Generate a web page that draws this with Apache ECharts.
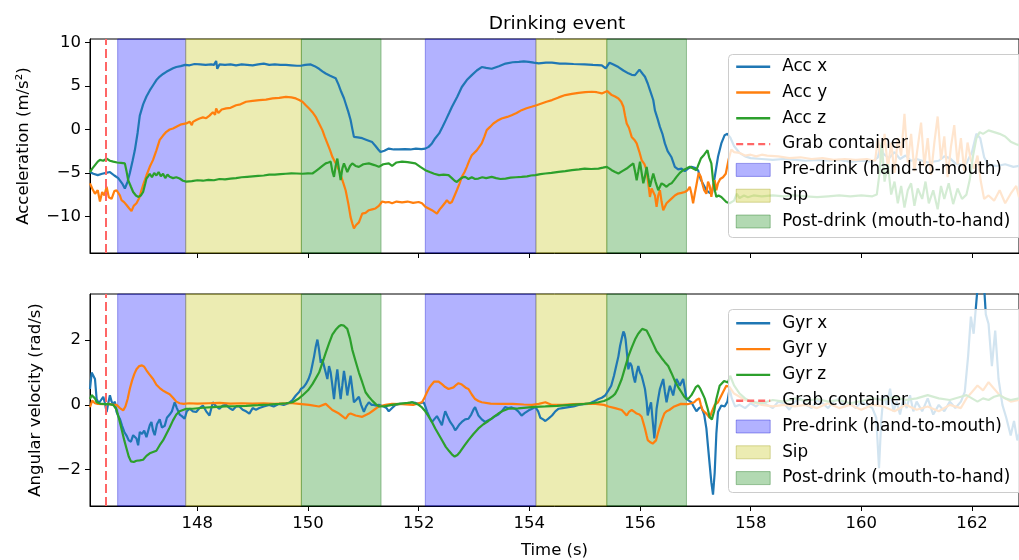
<!DOCTYPE html>
<html>
<head>
<meta charset="utf-8">
<script src="https://cdn.jsdelivr.net/npm/echarts@6/dist/echarts.min.js"></script>
<style>html,body{margin:0;padding:0;background:#fff}#c{width:1019px;height:560px}</style>
</head>
<body>
<div id="c"></div>
<script>
// ---- data (time in s, value) ----
const timeTicks = [148,150,152,154,156,158,160,162];
const accTicks = [-10,-5,0,5,10];
const gyrTicks = [-2,0,2];
const grabTime = [146.35];
const preDrink = [[146.56,147.79],[152.12,154.12]];
const sipPhase = [[147.79,149.88],[154.12,155.40]];
const postDrink = [[149.88,151.32],[155.40,156.84]];

const accX = [[146.06,-4.9],[146.12,-5.1],[146.2,-5.25],[146.28,-5.1],[146.35,-5.0],[146.42,-4.9],[146.5,-5.3],[146.57,-5.6],[146.64,-6.2],[146.69,-6.8],[146.74,-6.0],[146.78,-5.0],[146.83,-3.6],[146.87,-2.4],[146.92,-0.4],[146.96,1.6],[147.02,2.9],[147.08,3.8],[147.14,4.5],[147.2,5.1],[147.26,5.7],[147.32,6.1],[147.38,6.4],[147.44,6.65],[147.5,6.85],[147.56,7.05],[147.62,7.2],[147.7,7.3],[147.78,7.45],[147.86,7.4],[147.95,7.55],[148.05,7.5],[148.15,7.45],[148.25,7.5],[148.3,7.45],[148.34,7.9],[148.36,7.0],[148.4,7.5],[148.5,7.45],[148.6,7.5],[148.7,7.4],[148.8,7.5],[148.9,7.45],[149.0,7.4],[149.1,7.5],[149.2,7.6],[149.3,7.45],[149.4,7.5],[149.5,7.45],[149.6,7.45],[149.7,7.4],[149.8,7.35],[149.87,7.35],[149.95,7.45],[150.05,7.5],[150.12,7.3],[150.2,7.0],[150.26,6.7],[150.32,6.45],[150.4,6.2],[150.5,5.9],[150.55,5.2],[150.6,4.35],[150.65,3.6],[150.68,3.0],[150.73,2.0],[150.77,1.1],[150.8,0.1],[150.83,-0.85],[150.9,-0.9],[150.98,-1.0],[151.06,-1.2],[151.16,-1.45],[151.22,-1.9],[151.27,-2.3],[151.31,-2.6],[151.38,-2.45],[151.46,-2.2],[151.55,-2.3],[151.64,-2.3],[151.75,-2.25],[151.85,-2.3],[151.95,-2.2],[152.05,-2.25],[152.12,-2.2],[152.18,-2.0],[152.24,-1.6],[152.3,-1.0],[152.37,-0.45],[152.43,0.3],[152.49,1.08],[152.55,1.9],[152.6,2.6],[152.7,3.8],[152.78,4.9],[152.87,5.7],[152.96,6.27],[153.05,6.8],[153.14,7.2],[153.22,7.1],[153.32,7.0],[153.45,7.3],[153.57,7.6],[153.7,7.75],[153.81,7.8],[153.9,7.85],[153.99,7.8],[154.08,7.7],[154.17,7.62],[154.3,7.7],[154.41,7.7],[154.55,7.6],[154.65,7.6],[154.8,7.55],[155.0,7.5],[155.15,7.45],[155.31,7.4],[155.38,7.04],[155.45,7.7],[155.52,7.5],[155.61,7.2],[155.7,6.8],[155.79,6.47],[155.85,6.3],[155.91,6.27],[155.99,6.9],[156.05,6.4],[156.09,6.08],[156.14,5.3],[156.18,4.54],[156.24,3.4],[156.27,2.2],[156.32,1.2],[156.36,0.3],[156.41,-0.6],[156.45,-1.6],[156.5,-2.5],[156.57,-3.2],[156.63,-4.3],[156.69,-4.6],[156.75,-4.5],[156.81,-4.8],[156.87,-4.5],[156.93,-4.3],[156.99,-4.4],[157.05,-4.7],[157.1,-5.8],[157.16,-6.5],[157.2,-7.0],[157.26,-7.3],[157.3,-7.35],[157.35,-5.5],[157.41,-3.15],[157.47,-1.6],[157.53,-0.65],[157.58,-0.5],[157.63,-0.9],[157.7,-1.9],[157.8,-2.7],[157.9,-3.1],[158.0,-3.3],[158.2,-3.4],[158.4,-3.5],[158.6,-3.4],[158.8,-3.5],[159.0,-3.6],[159.2,-3.5],[159.4,-3.6],[159.6,-3.5],[159.8,-3.7],[160.0,-3.6],[160.2,-3.7],[160.3,-3.2],[160.35,-1.8],[160.4,-2.8],[160.5,-3.3],[160.6,-2.6],[160.7,-3.4],[160.8,-3.0],[160.9,-3.6],[161.0,-3.4],[161.2,-3.8],[161.4,-3.6],[161.5,-3.1],[161.6,-3.3],[161.7,-3.9],[161.8,-4.1],[161.9,-3.9],[162.0,-2.6],[162.08,-0.5],[162.15,-1.0],[162.22,-3.2],[162.3,-4.1],[162.45,-4.2],[162.6,-4.0],[162.75,-4.3],[162.85,-4.2]];

const accY = [[146.06,-6.2],[146.1,-6.8],[146.15,-7.4],[146.2,-7.0],[146.24,-8.3],[146.28,-7.2],[146.32,-7.6],[146.36,-6.6],[146.4,-7.8],[146.45,-8.0],[146.5,-7.1],[146.54,-7.0],[146.6,-7.6],[146.63,-8.15],[146.68,-8.4],[146.72,-8.7],[146.77,-9.1],[146.81,-9.4],[146.85,-8.8],[146.9,-8.5],[146.95,-7.9],[146.99,-7.0],[147.03,-6.2],[147.08,-5.3],[147.14,-4.3],[147.2,-3.5],[147.26,-2.4],[147.32,-1.2],[147.38,-0.7],[147.44,-0.27],[147.5,0.0],[147.56,0.12],[147.63,0.35],[147.71,0.6],[147.8,0.7],[147.86,0.9],[147.9,0.5],[147.92,0.88],[147.98,1.1],[148.04,1.27],[148.1,1.4],[148.16,1.3],[148.22,1.6],[148.28,2.0],[148.32,1.7],[148.34,2.43],[148.38,1.9],[148.44,2.3],[148.52,2.43],[148.6,2.5],[148.7,2.8],[148.78,2.9],[148.88,3.2],[149.0,3.3],[149.12,3.39],[149.24,3.45],[149.36,3.58],[149.48,3.65],[149.6,3.77],[149.7,3.7],[149.78,3.58],[149.84,3.4],[149.9,3.2],[149.96,2.8],[150.02,2.43],[150.08,2.0],[150.14,1.46],[150.2,0.7],[150.26,-0.07],[150.3,-0.8],[150.35,-1.6],[150.4,-2.4],[150.44,-3.15],[150.5,-3.9],[150.56,-4.69],[150.62,-5.8],[150.68,-7.0],[150.73,-8.6],[150.77,-10.1],[150.8,-10.8],[150.83,-11.4],[150.87,-11.0],[150.92,-10.7],[150.98,-9.7],[151.04,-9.6],[151.1,-9.3],[151.16,-9.2],[151.22,-9.1],[151.28,-8.8],[151.34,-8.3],[151.4,-8.4],[151.46,-8.35],[151.52,-8.5],[151.6,-8.3],[151.7,-8.4],[151.8,-8.3],[151.9,-8.45],[152.0,-8.35],[152.06,-8.5],[152.12,-8.9],[152.18,-9.1],[152.24,-9.3],[152.33,-9.7],[152.38,-9.2],[152.42,-8.9],[152.47,-8.5],[152.51,-8.15],[152.56,-8.5],[152.6,-8.35],[152.65,-7.6],[152.69,-7.0],[152.74,-6.2],[152.78,-5.46],[152.83,-4.9],[152.87,-4.3],[152.92,-3.5],[152.96,-2.96],[153.05,-2.4],[153.14,-1.6],[153.19,-0.8],[153.23,-0.07],[153.29,0.3],[153.35,0.69],[153.42,1.0],[153.5,1.27],[153.6,1.45],[153.68,1.65],[153.77,1.9],[153.86,2.23],[153.95,2.45],[154.04,2.62],[154.13,2.8],[154.22,3.0],[154.31,3.2],[154.41,3.39],[154.53,3.7],[154.65,3.97],[154.77,4.1],[154.89,4.23],[155.01,4.3],[155.13,4.35],[155.22,4.3],[155.31,4.16],[155.36,4.3],[155.41,4.43],[155.49,3.97],[155.55,3.8],[155.61,3.58],[155.66,3.2],[155.7,2.62],[155.73,1.6],[155.76,0.69],[155.8,0.2],[155.85,-0.85],[155.9,-1.2],[155.94,-1.6],[155.99,-2.6],[156.03,-3.53],[156.08,-4.0],[156.12,-4.69],[156.15,-6.2],[156.18,-7.77],[156.21,-6.8],[156.24,-6.6],[156.27,-7.6],[156.3,-8.9],[156.33,-7.6],[156.36,-7.0],[156.39,-8.3],[156.42,-9.3],[156.45,-8.9],[156.48,-8.5],[156.53,-8.2],[156.57,-7.96],[156.63,-7.6],[156.69,-7.38],[156.75,-7.3],[156.81,-7.2],[156.86,-7.0],[156.9,-6.6],[156.93,-7.4],[156.96,-8.5],[156.99,-7.4],[157.02,-6.4],[157.06,-5.0],[157.1,-5.46],[157.13,-6.3],[157.16,-7.0],[157.2,-7.4],[157.23,-6.0],[157.26,-6.5],[157.29,-7.77],[157.32,-6.5],[157.35,-5.84],[157.38,-7.0],[157.41,-6.2],[157.45,-5.7],[157.5,-5.5],[157.55,-5.1],[157.6,-3.5],[157.65,-2.3],[157.7,-2.6],[157.8,-2.7],[157.9,-3.0],[158.0,-2.9],[158.1,-3.1],[158.2,-2.9],[158.3,-3.0],[158.5,-3.1],[158.7,-3.3],[158.9,-3.2],[159.1,-3.4],[159.3,-3.3],[159.5,-3.5],[159.7,-3.4],[159.9,-3.5],[160.1,-3.4],[160.25,-3.6],[160.3,-1.0],[160.36,-3.8],[160.42,-0.5],[160.48,-4.5],[160.54,-1.5],[160.6,-5.0],[160.66,-1.0],[160.72,-3.0],[160.78,1.8],[160.84,-3.8],[160.9,-0.5],[160.96,-4.8],[161.02,-2.0],[161.08,0.8],[161.14,-4.2],[161.2,-1.0],[161.26,-5.2],[161.32,-1.5],[161.38,1.5],[161.44,-3.5],[161.5,-0.8],[161.56,-5.5],[161.62,-2.0],[161.68,0.5],[161.74,-4.0],[161.8,-1.0],[161.86,-4.8],[161.92,-1.5],[161.98,-3.5],[162.04,-4.5],[162.1,-3.0],[162.16,-6.0],[162.22,-8.0],[162.3,-7.6],[162.4,-8.2],[162.5,-7.0],[162.6,-8.5],[162.7,-7.4],[162.8,-6.5],[162.85,-7.8]];

const accZ = [[146.06,-4.9],[146.1,-4.5],[146.15,-4.1],[146.2,-3.7],[146.24,-3.5],[146.3,-3.6],[146.36,-3.35],[146.42,-3.6],[146.48,-3.7],[146.55,-3.8],[146.62,-3.85],[146.69,-3.9],[146.72,-4.8],[146.75,-5.84],[146.8,-6.6],[146.84,-7.2],[146.89,-7.6],[146.93,-7.77],[146.98,-7.6],[147.02,-7.2],[147.06,-6.2],[147.08,-5.65],[147.11,-5.4],[147.14,-5.1],[147.18,-5.5],[147.22,-5.0],[147.26,-5.3],[147.3,-4.9],[147.34,-5.4],[147.38,-5.1],[147.42,-5.6],[147.46,-5.2],[147.5,-5.45],[147.56,-5.6],[147.62,-5.5],[147.68,-5.65],[147.74,-5.9],[147.8,-6.0],[147.9,-5.95],[148.0,-5.85],[148.1,-5.9],[148.2,-5.8],[148.3,-5.85],[148.4,-5.7],[148.5,-5.75],[148.6,-5.65],[148.7,-5.6],[148.8,-5.5],[148.9,-5.45],[149.0,-5.4],[149.1,-5.35],[149.2,-5.3],[149.3,-5.2],[149.4,-5.2],[149.5,-5.15],[149.6,-5.1],[149.7,-5.05],[149.8,-5.07],[149.9,-5.1],[150.0,-5.05],[150.08,-5.07],[150.14,-4.8],[150.2,-4.5],[150.26,-4.2],[150.32,-3.9],[150.37,-3.8],[150.41,-3.7],[150.44,-4.8],[150.47,-5.46],[150.5,-4.2],[150.53,-3.35],[150.56,-4.6],[150.59,-5.84],[150.62,-4.5],[150.65,-3.9],[150.68,-4.4],[150.71,-4.9],[150.76,-4.2],[150.8,-3.9],[150.86,-4.2],[150.92,-4.3],[151.0,-4.0],[151.1,-3.9],[151.2,-4.1],[151.28,-4.3],[151.36,-4.0],[151.46,-3.9],[151.52,-4.2],[151.6,-3.8],[151.7,-3.7],[151.8,-3.75],[151.94,-3.9],[152.03,-4.3],[152.12,-4.69],[152.2,-4.9],[152.28,-5.1],[152.37,-5.26],[152.45,-5.2],[152.54,-5.26],[152.6,-5.6],[152.65,-5.9],[152.69,-6.04],[152.75,-5.7],[152.8,-5.5],[152.84,-5.46],[152.9,-5.7],[152.96,-5.5],[153.02,-5.7],[153.08,-5.65],[153.15,-5.5],[153.22,-5.6],[153.32,-5.46],[153.4,-5.6],[153.48,-5.7],[153.57,-5.65],[153.66,-5.55],[153.76,-5.5],[153.86,-5.46],[153.96,-5.4],[154.03,-5.3],[154.11,-5.26],[154.2,-5.15],[154.29,-5.07],[154.4,-5.0],[154.53,-4.88],[154.65,-4.8],[154.77,-4.69],[154.9,-4.6],[155.0,-4.5],[155.12,-4.55],[155.25,-4.5],[155.33,-4.4],[155.4,-4.3],[155.45,-4.5],[155.49,-4.69],[155.55,-4.9],[155.61,-5.07],[155.68,-4.8],[155.76,-4.5],[155.82,-4.2],[155.88,-3.9],[155.91,-4.8],[155.94,-5.84],[155.97,-4.8],[156.0,-3.7],[156.03,-5.0],[156.06,-6.2],[156.09,-5.4],[156.12,-4.3],[156.15,-5.5],[156.18,-6.6],[156.21,-5.8],[156.24,-5.07],[156.28,-6.0],[156.33,-7.0],[156.36,-6.6],[156.39,-6.2],[156.44,-6.4],[156.48,-6.6],[156.53,-6.3],[156.57,-6.2],[156.62,-5.8],[156.66,-5.46],[156.72,-5.0],[156.78,-4.69],[156.84,-4.5],[156.9,-4.3],[156.96,-4.5],[157.02,-4.69],[157.06,-4.0],[157.1,-3.35],[157.16,-2.9],[157.22,-2.38],[157.25,-3.2],[157.29,-3.9],[157.32,-5.84],[157.36,-7.2],[157.38,-7.77],[157.42,-7.6],[157.47,-7.77],[157.52,-8.1],[157.56,-8.35],[157.62,-8.5],[157.7,-8.2],[157.75,-7.4],[157.8,-7.9],[157.88,-7.6],[157.95,-7.8],[158.05,-7.6],[158.2,-7.7],[158.4,-7.6],[158.6,-7.7],[158.8,-7.6],[159.0,-7.7],[159.2,-7.8],[159.4,-7.7],[159.6,-7.6],[159.8,-7.7],[160.0,-7.6],[160.2,-7.7],[160.28,-7.5],[160.33,-5.0],[160.37,-1.5],[160.42,-6.0],[160.48,-4.0],[160.54,-7.5],[160.6,-6.0],[160.66,-8.5],[160.72,-6.5],[160.78,-9.0],[160.84,-7.0],[160.9,-6.2],[160.96,-8.8],[161.02,-6.8],[161.1,-8.0],[161.16,-6.0],[161.22,-8.5],[161.3,-7.0],[161.38,-9.2],[161.44,-6.5],[161.5,-8.0],[161.58,-6.2],[161.66,-8.6],[161.74,-6.8],[161.82,-8.0],[161.9,-7.5],[161.96,-5.8],[162.02,-3.0],[162.08,-1.0],[162.14,-0.3],[162.2,-0.5],[162.3,-0.1],[162.4,-0.3],[162.5,-0.5],[162.6,-0.8],[162.7,-1.4],[162.8,-1.7],[162.85,-1.8]];

const gyrX = [[146.06,0.49],[146.09,1.0],[146.12,1.05],[146.15,0.8],[146.18,0.18],[146.22,0.05],[146.26,0.15],[146.3,0.25],[146.33,0.05],[146.36,-0.22],[146.39,0.05],[146.42,0.3],[146.45,0.1],[146.48,0.0],[146.51,0.1],[146.54,-0.22],[146.57,-0.35],[146.6,-0.43],[146.64,-0.65],[146.68,-0.84],[146.72,-0.95],[146.76,-1.1],[146.8,-1.14],[146.84,-0.94],[146.87,-1.0],[146.9,-1.04],[146.93,-1.25],[146.96,-0.84],[147.0,-0.9],[147.04,-0.8],[147.08,-1.0],[147.11,-0.95],[147.14,-0.63],[147.17,-0.53],[147.2,-0.8],[147.23,-0.94],[147.27,-0.6],[147.32,-0.45],[147.36,-0.7],[147.41,-0.65],[147.45,-0.4],[147.5,-0.3],[147.54,-0.2],[147.59,0.08],[147.63,-0.1],[147.68,-0.3],[147.72,-0.35],[147.77,-0.43],[147.81,-0.2],[147.86,-0.12],[147.92,-0.2],[147.98,-0.22],[148.04,-0.1],[148.1,-0.02],[148.16,-0.2],[148.22,-0.33],[148.28,0.08],[148.34,-0.05],[148.4,-0.12],[148.46,-0.02],[148.52,0.0],[148.58,-0.1],[148.64,-0.16],[148.7,-0.05],[148.76,-0.05],[148.82,-0.15],[148.88,-0.2],[148.94,-0.27],[149.0,-0.1],[149.06,-0.15],[149.12,-0.1],[149.2,-0.05],[149.3,0.0],[149.38,-0.05],[149.48,0.03],[149.56,0.0],[149.66,0.06],[149.72,0.15],[149.78,0.29],[149.84,0.4],[149.87,0.49],[149.92,0.55],[149.96,0.64],[150.01,0.8],[150.05,1.0],[150.08,1.25],[150.11,1.5],[150.14,1.8],[150.17,2.02],[150.2,1.7],[150.23,1.3],[150.26,1.4],[150.29,1.2],[150.32,1.0],[150.35,0.8],[150.38,1.2],[150.41,1.0],[150.44,0.6],[150.47,0.18],[150.5,0.7],[150.53,1.1],[150.56,0.6],[150.59,0.18],[150.62,0.6],[150.65,1.05],[150.68,0.7],[150.71,0.29],[150.74,0.6],[150.77,0.9],[150.8,0.5],[150.83,0.08],[150.87,0.15],[150.92,0.25],[150.96,0.0],[151.01,-0.22],[151.05,-0.05],[151.1,0.08],[151.15,0.0],[151.19,0.0],[151.24,-0.03],[151.28,0.0],[151.33,-0.03],[151.37,-0.05],[151.42,-0.1],[151.46,-0.2],[151.52,-0.1],[151.58,0.0],[151.66,0.03],[151.76,0.03],[151.83,0.05],[151.88,0.08],[151.94,0.06],[152.0,0.03],[152.05,0.06],[152.09,0.08],[152.12,-0.05],[152.15,-0.2],[152.2,-0.4],[152.24,-0.53],[152.28,-0.45],[152.33,-0.35],[152.38,-0.5],[152.42,-0.63],[152.45,-0.4],[152.48,-0.2],[152.52,-0.35],[152.57,-0.53],[152.62,-0.65],[152.66,-0.79],[152.7,-0.7],[152.74,-0.6],[152.78,-0.53],[152.84,-0.45],[152.9,-0.43],[152.95,-0.3],[152.99,-0.15],[153.02,-0.07],[153.05,-0.2],[153.08,-0.33],[153.14,-0.45],[153.2,-0.53],[153.26,-0.48],[153.32,-0.43],[153.38,-0.35],[153.44,-0.3],[153.5,-0.2],[153.56,-0.07],[153.62,-0.1],[153.68,-0.08],[153.74,-0.12],[153.8,-0.2],[153.86,-0.33],[153.92,-0.25],[153.99,-0.17],[154.05,-0.12],[154.11,-0.07],[154.16,-0.2],[154.2,-0.4],[154.25,-0.45],[154.29,-0.5],[154.35,-0.42],[154.41,-0.33],[154.47,-0.2],[154.53,-0.12],[154.6,-0.1],[154.71,-0.07],[154.8,-0.05],[154.89,0.0],[154.98,0.02],[155.07,0.03],[155.16,0.1],[155.25,0.18],[155.31,0.22],[155.37,0.29],[155.43,0.45],[155.48,0.59],[155.53,0.9],[155.57,1.2],[155.61,1.5],[155.64,1.82],[155.67,2.05],[155.7,2.27],[155.72,2.2],[155.74,2.02],[155.77,1.5],[155.79,1.1],[155.82,1.3],[155.85,1.2],[155.88,0.9],[155.91,0.69],[155.94,1.0],[155.97,1.2],[156.0,1.0],[156.03,0.9],[156.06,0.7],[156.09,0.49],[156.12,0.1],[156.14,-0.33],[156.17,-0.1],[156.2,0.08],[156.23,-0.5],[156.26,-1.04],[156.28,-0.6],[156.3,-0.12],[156.33,0.2],[156.36,0.49],[156.39,0.65],[156.42,0.8],[156.45,0.4],[156.48,0.08],[156.51,0.35],[156.54,0.59],[156.57,0.45],[156.6,0.29],[156.63,0.55],[156.66,0.8],[156.69,0.7],[156.72,0.59],[156.75,0.7],[156.78,0.8],[156.81,0.5],[156.84,0.18],[156.89,0.12],[156.93,0.08],[156.97,-0.05],[157.02,-0.2],[157.07,-0.1],[157.11,-0.07],[157.16,-0.3],[157.2,-0.73],[157.23,-1.3],[157.26,-1.86],[157.29,-2.4],[157.32,-2.78],[157.35,-2.1],[157.38,-0.9],[157.41,-0.22],[157.47,-0.02],[157.53,-0.05],[157.58,0.1],[157.62,0.5],[157.66,0.2],[157.72,-0.05],[157.8,0.0],[157.9,-0.1],[158.0,0.05],[158.1,-0.05],[158.2,0.1],[158.3,0.0],[158.4,-0.1],[158.5,0.1],[158.6,0.05],[158.7,-0.15],[158.8,0.1],[158.9,0.2],[159.0,0.0],[159.1,-0.1],[159.2,0.15],[159.3,0.05],[159.4,-0.1],[159.5,0.1],[159.6,0.2],[159.7,-0.05],[159.8,0.05],[159.9,-0.1],[160.0,0.1],[160.1,0.0],[160.2,-0.1],[160.27,-0.4],[160.32,-1.96],[160.36,-0.5],[160.4,0.3],[160.46,0.0],[160.52,0.5],[160.58,-0.2],[160.64,0.1],[160.7,-0.3],[160.76,0.2],[160.82,-0.1],[160.88,0.3],[160.94,-0.2],[161.0,0.1],[161.1,-0.2],[161.2,0.2],[161.3,-0.3],[161.4,0.0],[161.5,-0.2],[161.6,0.1],[161.7,-0.1],[161.8,0.1],[161.87,0.4],[161.93,1.5],[161.98,2.73],[162.03,2.2],[162.08,3.2],[162.12,4.0],[162.16,3.5],[162.2,4.2],[162.25,2.8],[162.3,2.5],[162.36,1.2],[162.42,2.3],[162.48,0.8],[162.55,0.0],[162.62,-0.4],[162.7,-0.95],[162.76,-0.5],[162.82,-1.1],[162.85,-0.9]];

const gyrY = [[146.06,-0.07],[146.1,0.13],[146.15,0.05],[146.2,0.03],[146.3,0.02],[146.4,0.03],[146.48,0.0],[146.54,0.0],[146.6,-0.1],[146.66,-0.17],[146.7,-0.05],[146.74,0.18],[146.78,0.5],[146.82,0.75],[146.86,0.95],[146.9,1.1],[146.95,1.2],[147.0,1.22],[147.04,1.18],[147.08,1.07],[147.13,0.95],[147.2,0.8],[147.26,0.62],[147.32,0.52],[147.38,0.44],[147.44,0.38],[147.5,0.33],[147.56,0.22],[147.62,0.1],[147.68,0.05],[147.75,0.03],[147.85,0.05],[148.0,0.04],[148.2,0.05],[148.4,0.06],[148.6,0.04],[148.8,0.05],[149.0,0.04],[149.2,0.05],[149.4,0.03],[149.6,0.05],[149.72,0.05],[149.84,0.03],[150.02,0.0],[150.2,-0.05],[150.32,0.03],[150.44,-0.16],[150.56,-0.27],[150.62,-0.35],[150.68,-0.43],[150.73,-0.3],[150.77,-0.27],[150.86,-0.33],[150.98,-0.37],[151.1,-0.27],[151.19,-0.16],[151.28,-0.05],[151.4,0.0],[151.52,0.03],[151.7,0.02],[151.9,0.0],[152.06,0.08],[152.1,0.2],[152.15,0.39],[152.2,0.55],[152.24,0.64],[152.28,0.72],[152.31,0.77],[152.36,0.72],[152.42,0.64],[152.48,0.55],[152.54,0.49],[152.63,0.54],[152.68,0.62],[152.72,0.67],[152.77,0.64],[152.81,0.59],[152.86,0.52],[152.9,0.49],[152.96,0.32],[153.02,0.18],[153.08,0.12],[153.14,0.08],[153.3,0.04],[153.5,0.03],[153.7,0.03],[153.9,0.01],[154.05,0.0],[154.17,0.03],[154.29,0.08],[154.4,0.0],[154.6,0.0],[154.8,0.02],[155.0,0.03],[155.2,0.03],[155.35,0.0],[155.43,-0.05],[155.55,-0.1],[155.67,-0.16],[155.72,-0.25],[155.76,-0.33],[155.8,-0.22],[155.85,-0.16],[155.9,-0.22],[155.94,-0.27],[155.99,-0.3],[156.03,-0.37],[156.06,-0.55],[156.09,-0.73],[156.12,-0.95],[156.14,-1.09],[156.18,-1.15],[156.23,-1.2],[156.26,-1.15],[156.29,-1.1],[156.32,-0.9],[156.35,-0.73],[156.4,-0.45],[156.44,-0.27],[156.48,-0.2],[156.53,-0.16],[156.62,-0.05],[156.74,0.03],[156.86,0.02],[156.93,0.05],[156.98,0.08],[157.02,0.15],[157.07,0.2],[157.1,0.0],[157.13,-0.16],[157.2,-0.27],[157.26,-0.4],[157.3,-0.2],[157.35,0.0],[157.41,0.08],[157.5,0.39],[157.56,0.59],[157.62,0.55],[157.7,0.35],[157.8,0.25],[157.9,0.15],[158.0,0.1],[158.2,0.0],[158.4,-0.05],[158.6,0.0],[158.8,-0.05],[159.0,0.0],[159.2,-0.1],[159.4,0.05],[159.6,-0.1],[159.8,0.0],[160.0,-0.15],[160.2,0.0],[160.4,-0.05],[160.6,-0.2],[160.8,0.0],[161.0,-0.15],[161.2,-0.05],[161.4,-0.2],[161.6,0.0],[161.8,-0.1],[161.9,0.2],[162.0,0.4],[162.1,0.6],[162.2,0.45],[162.3,0.7],[162.4,0.5],[162.5,0.3],[162.6,0.2],[162.7,0.1],[162.85,0.15]];

const gyrZ = [[146.06,0.18],[146.09,0.3],[146.12,0.34],[146.15,0.2],[146.18,0.08],[146.24,0.04],[146.3,0.03],[146.4,0.02],[146.48,0.0],[146.54,-0.15],[146.58,-0.4],[146.63,-0.75],[146.68,-1.1],[146.72,-1.35],[146.76,-1.6],[146.8,-1.75],[146.85,-1.77],[146.9,-1.73],[146.96,-1.72],[147.02,-1.7],[147.08,-1.58],[147.14,-1.5],[147.2,-1.46],[147.26,-1.42],[147.32,-1.25],[147.38,-1.1],[147.44,-0.9],[147.5,-0.7],[147.56,-0.48],[147.62,-0.3],[147.68,-0.2],[147.74,-0.16],[147.8,-0.12],[147.92,-0.12],[148.1,-0.09],[148.28,-0.07],[148.5,-0.05],[148.7,-0.04],[148.88,-0.03],[149.1,-0.01],[149.3,0.01],[149.48,0.03],[149.6,0.05],[149.72,0.08],[149.82,0.18],[149.9,0.29],[150.0,0.45],[150.08,0.64],[150.14,0.82],[150.2,1.0],[150.26,1.3],[150.32,1.61],[150.38,1.9],[150.44,2.17],[150.5,2.32],[150.56,2.43],[150.6,2.47],[150.65,2.45],[150.71,2.35],[150.76,2.05],[150.8,1.71],[150.86,1.35],[150.92,1.0],[150.98,0.7],[151.04,0.39],[151.1,0.25],[151.16,0.13],[151.22,0.03],[151.28,-0.05],[151.4,-0.04],[151.52,0.0],[151.64,0.03],[151.8,0.06],[151.88,0.08],[152.0,0.0],[152.06,-0.08],[152.12,-0.2],[152.18,-0.36],[152.24,-0.53],[152.3,-0.73],[152.37,-0.94],[152.43,-1.12],[152.49,-1.3],[152.55,-1.43],[152.6,-1.53],[152.65,-1.6],[152.7,-1.55],[152.75,-1.45],[152.82,-1.28],[152.9,-1.09],[152.99,-0.9],[153.08,-0.73],[153.17,-0.6],[153.26,-0.5],[153.35,-0.38],[153.44,-0.27],[153.53,-0.18],[153.62,-0.12],[153.8,-0.11],[154.04,-0.07],[154.29,-0.05],[154.5,-0.03],[154.75,0.0],[155.0,0.03],[155.25,0.08],[155.35,0.12],[155.43,0.18],[155.5,0.26],[155.55,0.34],[155.6,0.5],[155.67,0.8],[155.73,1.15],[155.79,1.5],[155.85,1.77],[155.91,2.02],[155.96,2.18],[156.0,2.27],[156.04,2.35],[156.07,2.4],[156.12,2.3],[156.18,2.1],[156.24,1.88],[156.3,1.66],[156.35,1.55],[156.39,1.45],[156.45,1.32],[156.51,1.2],[156.57,0.98],[156.63,0.74],[156.69,0.55],[156.75,0.39],[156.8,0.25],[156.84,0.18],[156.88,0.2],[156.93,0.3],[156.97,0.42],[157.01,0.55],[157.05,0.6],[157.09,0.5],[157.13,0.35],[157.17,0.2],[157.22,-0.1],[157.26,-0.38],[157.3,-0.45],[157.34,-0.2],[157.38,0.18],[157.44,0.59],[157.52,0.74],[157.59,0.69],[157.63,0.9],[157.7,0.6],[157.8,0.35],[157.9,0.2],[158.0,0.1],[158.2,0.05],[158.4,0.15],[158.6,0.1],[158.8,0.2],[159.0,0.12],[159.2,0.18],[159.4,0.1],[159.6,0.15],[159.8,0.05],[160.0,0.12],[160.2,0.2],[160.4,0.15],[160.6,0.25],[160.8,0.15],[161.0,0.2],[161.2,0.3],[161.4,0.2],[161.6,0.15],[161.8,0.25],[161.9,0.3],[162.0,0.2],[162.1,0.1],[162.2,0.2],[162.3,0.15],[162.4,0.25],[162.5,0.3],[162.6,0.2],[162.7,0.15],[162.85,0.2]];

// ---- chart ----
const FONT = 'DejaVu Sans';
const FS = 16.5;
const LFS = 16.8;
const LW = 2.2;
const C_X = '#1f77b4', C_Y = '#ff7f0e', C_Z = '#2ca02c', C_GRAB = '#ff6666';
const BAND = {
  pre: {fill: 'rgba(0,0,255,0.3)', edge: 'rgba(0,0,200,0.35)'},
  sip: {fill: 'rgba(191,191,0,0.3)', edge: 'rgba(150,150,0,0.35)'},
  post: {fill: 'rgba(0,128,0,0.3)', edge: 'rgba(0,100,0,0.35)'}
};
const XMIN = 146.06, XMAX = 162.85;
const minus = v => String(v).replace('-', '\u2212');

function bandSeries(name, spans, style, gi) {
  return {
    name: name, type: 'line', xAxisIndex: gi, yAxisIndex: gi, data: [],
    color: style.fill, symbol: 'none', silent: true,
    markArea: {
      silent: true,
      itemStyle: {color: style.fill, borderColor: style.edge, borderWidth: 1},
      data: spans.map(s => [{xAxis: s[0]}, {xAxis: s[1]}])
    }
  };
}
function grabSeries(gi) {
  return {
    name: 'Grab container', type: 'line', xAxisIndex: gi, yAxisIndex: gi, data: [],
    color: C_GRAB, symbol: 'none', lineStyle: {color: C_GRAB, type: [7, 4], width: LW},
    markLine: {
      silent: true, symbol: ['none', 'none'], label: {show: false},
      lineStyle: {color: C_GRAB, type: [9, 4], width: 2},
      data: grabTime.map(t => ({xAxis: t}))
    }, z: 3
  };
}
function sig(name, data, color, gi) {
  return {name: name, type: 'line', xAxisIndex: gi, yAxisIndex: gi, data: data,
    color: color, symbol: 'none', showSymbol: false, lineStyle: {width: LW, color: color}, z: 2};
}
function legendFor(names, top) {
  const hid = {opacity: 0};
  return {
    orient: 'vertical', left: 735, top: top, padding: 0, itemGap: 5.8,
    itemWidth: 34, itemHeight: 13, z: 20, selectedMode: false,
    textStyle: {fontFamily: FONT, fontSize: LFS, color: '#000', lineHeight: 20, padding: [0, 0, 0, 7]},
    data: [
      {name: names[0], itemStyle: hid, lineStyle: {width: 2.4}},
      {name: names[1], itemStyle: hid, lineStyle: {width: 2.4}},
      {name: names[2], itemStyle: hid, lineStyle: {width: 2.4}},
      {name: 'Grab container', itemStyle: hid, lineStyle: {width: 2.4}},
      {name: 'Pre-drink (hand-to-mouth)', icon: 'rect', itemStyle: {color: BAND.pre.fill, borderColor: BAND.pre.edge, borderWidth: 1}},
      {name: 'Sip', icon: 'rect', itemStyle: {color: BAND.sip.fill, borderColor: BAND.sip.edge, borderWidth: 1}},
      {name: 'Post-drink (mouth-to-hand)', icon: 'rect', itemStyle: {color: BAND.post.fill, borderColor: BAND.post.edge, borderWidth: 1}}
    ]
  };
}
function xAx(gi, showLabels) {
  return {
    type: 'value', gridIndex: gi, min: XMIN, max: XMAX,
    axisLine: {show: true, onZero: false, lineStyle: {color: '#000', width: 1}},
    axisTick: {show: true, length: 5, lineStyle: {color: '#000'}, customValues: timeTicks},
    axisLabel: {show: showLabels, customValues: timeTicks, margin: 9, fontFamily: FONT, fontSize: FS, color: '#000'},
    splitLine: {show: false},
    name: showLabels ? 'Time (s)' : '', nameLocation: 'middle', nameGap: 36,
    nameTextStyle: {fontFamily: FONT, fontSize: FS, color: '#000'}
  };
}
function yAx(gi, min, max, ticks, name, gap) {
  return {
    type: 'value', gridIndex: gi, min: min, max: max,
    axisLine: {show: true, onZero: false, lineStyle: {color: '#000', width: 1}},
    axisTick: {show: true, length: 5, lineStyle: {color: '#000'}, customValues: ticks},
    axisLabel: {customValues: ticks, margin: 9, fontFamily: FONT, fontSize: FS, color: '#000', formatter: minus},
    splitLine: {show: false},
    name: name, nameLocation: 'middle', nameGap: gap, nameRotate: 90,
    nameTextStyle: {fontFamily: FONT, fontSize: FS, color: '#000'}
  };
}

const chart = echarts.init(document.getElementById('c'), null, {renderer: 'canvas'});
chart.setOption({
  animation: false,
  backgroundColor: '#fff',
  title: {text: 'Drinking event', left: 552, top: 10, textAlign: 'center',
    textStyle: {fontFamily: FONT, fontSize: 18.5, fontWeight: 'normal', color: '#000'}},
  grid: [
    {left: 90, top: 39, right: -3, height: 214, show: true, borderColor: '#000', borderWidth: 1, backgroundColor: 'transparent'},
    {left: 90, top: 294, right: -3, height: 214, show: true, borderColor: '#000', borderWidth: 1, backgroundColor: 'transparent'}
  ],
  xAxis: [xAx(0, false), xAx(1, true)],
  yAxis: [
    yAx(0, -14.23, 10.43, accTicks, 'Acceleration (m/s\u00b2)', 58),
    yAx(1, -3.13, 3.43, gyrTicks, 'Angular velocity (rad/s)', 46)
  ],
  legend: [
    legendFor(['Acc x', 'Acc y', 'Acc z'], 56.7),
    legendFor(['Gyr x', 'Gyr y', 'Gyr z'], 313.3)
  ],
  graphic: [
    {type: 'rect', z: 10, silent: true, shape: {x: 728.5, y: 54.5, width: 330, height: 183, r: 4},
      style: {fill: 'rgba(255,255,255,0.8)', stroke: '#cccccc', lineWidth: 1}},
    {type: 'rect', z: 10, silent: true, shape: {x: 728.5, y: 309.5, width: 330, height: 183, r: 4},
      style: {fill: 'rgba(255,255,255,0.8)', stroke: '#cccccc', lineWidth: 1}}
  ],
  series: [
    bandSeries('Pre-drink (hand-to-mouth)', preDrink, BAND.pre, 0),
    bandSeries('Sip', sipPhase, BAND.sip, 0),
    bandSeries('Post-drink (mouth-to-hand)', postDrink, BAND.post, 0),
    bandSeries('Pre-drink (hand-to-mouth)', preDrink, BAND.pre, 1),
    bandSeries('Sip', sipPhase, BAND.sip, 1),
    bandSeries('Post-drink (mouth-to-hand)', postDrink, BAND.post, 1),
    sig('Acc x', accX, C_X, 0), sig('Acc y', accY, C_Y, 0), sig('Acc z', accZ, C_Z, 0),
    sig('Gyr x', gyrX, C_X, 1), sig('Gyr y', gyrY, C_Y, 1), sig('Gyr z', gyrZ, C_Z, 1),
    grabSeries(0), grabSeries(1)
  ]
});
</script>
</body>
</html>
